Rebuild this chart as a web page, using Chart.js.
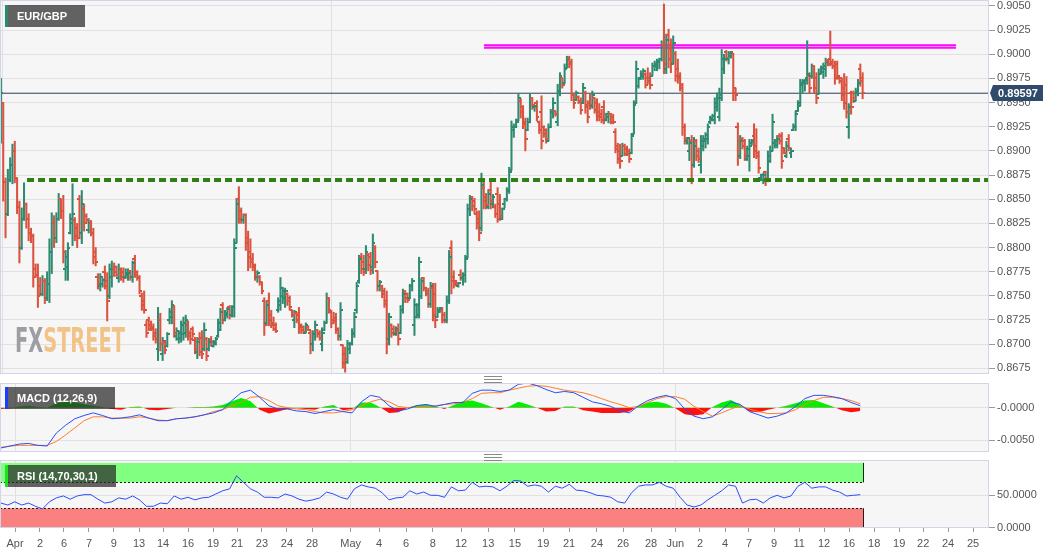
<!DOCTYPE html>
<html><head><meta charset="utf-8">
<script src="https://cdn.jsdelivr.net/npm/chart.js@4.4.0/dist/chart.umd.min.js"></script>
<style>
html,body{margin:0;padding:0;background:#fff;width:1060px;height:555px;overflow:hidden;font-family:"Liberation Sans",Arial,sans-serif;}
canvas{position:absolute;left:0;}
.tag{position:absolute;left:5px;height:22px;background:rgba(40,40,40,0.72);color:#fff;font-weight:bold;font-size:11px;line-height:22px;padding:0 18px 0 12px;white-space:nowrap;}
.tag i{position:absolute;left:0;top:0;bottom:0;width:3px;}
.handle{position:absolute;left:484px;width:18px;height:5px;border-top:1px solid #8a8a8a;border-bottom:1px solid #8a8a8a;}
.handle:after{content:'';position:absolute;left:0;right:0;top:2px;border-top:1px solid #8a8a8a;}
</style></head>
<body>
<canvas id="cMain" width="1060" height="374" style="top:0"></canvas>
<canvas id="cMacd" width="1060" height="69" style="top:383px"></canvas>
<canvas id="cRsi" width="1060" height="95" style="top:460px"></canvas>
<div class="tag" style="top:5px"><i style="background:#2b8a6e"></i>EUR/GBP</div>
<div class="tag" style="top:387px"><i style="background:#1c3dff"></i>MACD (12,26,9)</div>
<div class="tag" style="top:465px"><i style="background:#19e619"></i>RSI (14,70,30,1)</div>
<div class="handle" style="top:376px"></div>
<div class="handle" style="top:454px"></div>
<script>
// ---------- DATA ----------
const opens = [
0.8915,0.8950,0.8868,0.8835,0.8870,0.8885,0.8900,0.8872,0.8842,0.8800,
0.8830,0.8845,0.8830,0.8815,0.8812,0.8778,0.8772,0.8760,0.8752,0.8765,
0.8748,0.8762,0.8795,0.8825,0.8810,0.8830,0.8850,0.8838,0.8778,0.8780,
0.8815,0.8825,0.8828,0.8820,0.8850,0.8815,0.8840,0.8833,0.8818,0.8825,
0.8815,0.8795,0.8770,0.8760,0.8762,0.8775,0.8765,0.8750,0.8770,0.8778,
0.8780,0.8768,0.8778,0.8775,0.8770,0.8772,0.8776,0.8770,0.8788,0.8775,
0.8770,0.8750,0.8745,0.8720,0.8725,0.8720,0.8718,0.8712,0.8695,0.8725,
0.8690,0.8702,0.8698,0.8725,0.8728,0.8738,0.8708,0.8705,0.8706,0.8710,
0.8712,0.8720,0.8712,0.8716,0.8704,0.8692,0.8705,0.8706,0.8695,0.8705,
0.8695,0.8704,0.8698,0.8700,0.8708,0.8715,0.8740,0.8725,0.8730,0.8738,
0.8730,0.8738,0.8805,0.8850,0.8838,0.8828,0.8834,0.8810,0.8795,0.8788,
0.8782,0.8770,0.8770,0.8764,0.8745,0.8722,0.8745,0.8730,0.8722,0.8720,
0.8735,0.8740,0.8750,0.8748,0.8752,0.8748,0.8735,0.8725,0.8732,0.8730,
0.8720,0.8718,0.8712,0.8718,0.8712,0.8700,0.8710,0.8715,0.8712,0.8700,
0.8715,0.8722,0.8748,0.8733,0.8725,0.8727,0.8716,0.8708,0.8699,0.8690,
0.8682,0.8695,0.8700,0.8710,0.8735,0.8765,0.8790,0.8785,0.8778,0.8792,
0.8790,0.8780,0.8800,0.8776,0.8760,0.8760,0.8755,0.8745,0.8705,0.8720,
0.8716,0.8710,0.8715,0.8712,0.8735,0.8755,0.8752,0.8748,0.8760,0.8720,
0.8728,0.8730,0.8750,0.8768,0.8758,0.8755,0.8742,0.8758,0.8752,0.8728,
0.8733,0.8735,0.8730,0.8725,0.8745,0.8800,0.8770,0.8765,0.8760,0.8772,
0.8768,0.8772,0.8790,0.8840,0.8852,0.8848,0.8835,0.8830,0.8820,0.8862,
0.8852,0.8842,0.8860,0.8845,0.8842,0.8855,0.8845,0.8830,0.8845,0.8850,
0.8858,0.8880,0.8922,0.8925,0.8932,0.8952,0.8945,0.8930,0.8922,0.8930,
0.8955,0.8945,0.8950,0.8930,0.8940,0.8925,0.8922,0.8910,0.8925,0.8940,
0.8941,0.8930,0.8962,0.8975,0.8970,0.8986,0.8996,0.8992,0.8958,0.8953,
0.8956,0.8952,0.8950,0.8960,0.8948,0.8950,0.8946,0.8955,0.8950,0.8940,
0.8938,0.8945,0.8932,0.8935,0.8938,0.8935,0.8920,0.8905,0.8900,0.8895,
0.8905,0.8902,0.8900,0.8898,0.8918,0.8950,0.8967,0.8975,0.8978,0.8980,
0.8975,0.8975,0.8978,0.8988,0.8988,0.8992,0.8995,0.9010,0.8985,0.9020,
0.9005,0.8990,0.9000,0.8985,0.8978,0.8968,0.8925,0.8910,0.8900,0.8910,
0.8885,0.8910,0.8900,0.8885,0.8905,0.8910,0.8912,0.8930,0.8932,0.8932,
0.8945,0.8935,0.8955,0.8985,0.9002,0.8995,0.8998,0.9000,0.8965,0.8925,
0.8895,0.8912,0.8910,0.8892,0.8895,0.8908,0.8915,0.8905,0.8895,0.8872,
0.8870,0.8878,0.8870,0.8890,0.8900,0.8908,0.8906,0.8915,0.8915,0.8903,
0.8895,0.8912,0.8898,0.8922,0.8925,0.8941,0.8947,0.8968,0.8970,0.8975,
0.8978,0.8978,0.8988,0.8975,0.8959,0.8980,0.8982,0.8985,0.8993,0.8995,
0.8992,0.8988,0.8990,0.8975,0.8975,0.8965,0.8968,0.8925,0.8960,0.8960,
0.8952,0.8960,0.8985,0.8975];
const highs = [
0.8975,0.8950,0.8872,0.8881,0.8893,0.8907,0.8910,0.8872,0.8848,0.8841,
0.8867,0.8846,0.8835,0.8820,0.8814,0.8783,0.8783,0.8769,0.8771,0.8768,
0.8775,0.8809,0.8836,0.8833,0.8836,0.8856,0.8850,0.8854,0.8797,0.8805,
0.8835,0.8866,0.8831,0.8825,0.8854,0.8859,0.8845,0.8835,0.8830,0.8828,
0.8820,0.8800,0.8773,0.8773,0.8768,0.8781,0.8774,0.8783,0.8786,0.8784,
0.8781,0.8783,0.8779,0.8779,0.8778,0.8778,0.8776,0.8786,0.8792,0.8776,
0.8771,0.8753,0.8755,0.8724,0.8728,0.8724,0.8721,0.8716,0.8738,0.8732,
0.8707,0.8704,0.8712,0.8737,0.8745,0.8740,0.8717,0.8714,0.8724,0.8728,
0.8730,0.8724,0.8714,0.8718,0.8707,0.8707,0.8712,0.8714,0.8722,0.8707,
0.8706,0.8708,0.8704,0.8707,0.8726,0.8737,0.8743,0.8735,0.8738,0.8740,
0.8740,0.8809,0.8851,0.8863,0.8841,0.8835,0.8835,0.8817,0.8809,0.8794,
0.8783,0.8776,0.8771,0.8764,0.8748,0.8745,0.8753,0.8735,0.8728,0.8722,
0.8748,0.8769,0.8759,0.8758,0.8753,0.8750,0.8735,0.8735,0.8733,0.8738,
0.8721,0.8719,0.8722,0.8719,0.8714,0.8714,0.8724,0.8715,0.8714,0.8717,
0.8724,0.8753,0.8748,0.8735,0.8733,0.8732,0.8717,0.8743,0.8699,0.8697,
0.8704,0.8702,0.8716,0.8733,0.8764,0.8792,0.8794,0.8792,0.8802,0.8794,
0.8795,0.8814,0.8802,0.8776,0.8766,0.8761,0.8758,0.8755,0.8732,0.8721,
0.8719,0.8718,0.8721,0.8740,0.8757,0.8755,0.8753,0.8762,0.8768,0.8747,
0.8742,0.8790,0.8768,0.8769,0.8759,0.8758,0.8764,0.8763,0.8763,0.8738,
0.8738,0.8738,0.8733,0.8750,0.8797,0.8807,0.8776,0.8766,0.8764,0.8777,
0.8774,0.8792,0.8845,0.8854,0.8853,0.8851,0.8838,0.8838,0.8877,0.8869,
0.8856,0.8860,0.8869,0.8855,0.8845,0.8862,0.8855,0.8841,0.8851,0.8862,
0.8883,0.8931,0.8928,0.8933,0.8959,0.8954,0.8947,0.8934,0.8934,0.8959,
0.8955,0.8947,0.8952,0.8931,0.8957,0.8926,0.8923,0.8928,0.8943,0.8955,
0.8941,0.8969,0.8981,0.8975,0.8990,0.8998,0.8998,0.8995,0.8960,0.8962,
0.8957,0.8955,0.8970,0.8962,0.8952,0.8959,0.8962,0.8955,0.8954,0.8949,
0.8943,0.8952,0.8939,0.8941,0.8939,0.8938,0.8923,0.8908,0.8907,0.8908,
0.8907,0.8905,0.8902,0.8918,0.8952,0.8993,0.8976,0.8983,0.8985,0.8981,
0.8986,0.8981,0.8991,0.8993,0.8995,0.8996,0.9014,0.9052,0.9021,0.9026,
0.9016,0.9019,0.9003,0.8995,0.8981,0.8970,0.8928,0.8914,0.8912,0.8916,
0.8914,0.8912,0.8903,0.8916,0.8916,0.8919,0.8928,0.8936,0.8938,0.8955,
0.8960,0.8965,0.9005,0.9000,0.9004,0.9003,0.9003,0.9001,0.8965,0.8929,
0.8916,0.8914,0.8912,0.8905,0.8912,0.8912,0.8928,0.8923,0.8900,0.8876,
0.8877,0.8879,0.8900,0.8905,0.8938,0.8912,0.8916,0.8918,0.8919,0.8903,
0.8910,0.8917,0.8903,0.8928,0.8941,0.8952,0.8974,0.8974,0.8974,0.9014,
0.8981,0.8990,0.8988,0.8981,0.8985,0.8988,0.8991,0.8996,0.8995,0.9024,
0.8995,0.8993,0.8993,0.8975,0.8975,0.8980,0.8977,0.8949,0.8962,0.8962,
0.8965,0.8974,0.8990,0.8981];
const lows = [
0.8908,0.8848,0.8810,0.8833,0.8868,0.8866,0.8867,0.8835,0.8784,0.8798,
0.8828,0.8820,0.8807,0.8805,0.8759,0.8769,0.8738,0.8750,0.8750,0.8742,
0.8745,0.8743,0.8773,0.8800,0.8805,0.8828,0.8830,0.8784,0.8766,0.8766,
0.8814,0.8802,0.8807,0.8800,0.8809,0.8804,0.8817,0.8825,0.8815,0.8812,
0.8783,0.8781,0.8757,0.8755,0.8759,0.8757,0.8724,0.8747,0.8759,0.8770,
0.8770,0.8764,0.8766,0.8764,0.8768,0.8766,0.8766,0.8764,0.8769,0.8766,
0.8752,0.8735,0.8732,0.8707,0.8714,0.8714,0.8704,0.8701,0.8683,0.8693,
0.8683,0.8690,0.8697,0.8721,0.8721,0.8707,0.8704,0.8701,0.8702,0.8704,
0.8707,0.8704,0.8700,0.8707,0.8690,0.8685,0.8688,0.8685,0.8693,0.8683,
0.8693,0.8698,0.8697,0.8699,0.8707,0.8714,0.8721,0.8724,0.8727,0.8726,
0.8728,0.8728,0.8805,0.8825,0.8825,0.8825,0.8797,0.8776,0.8779,0.8776,
0.8766,0.8764,0.8761,0.8752,0.8709,0.8719,0.8719,0.8717,0.8714,0.8712,
0.8733,0.8735,0.8742,0.8738,0.8740,0.8735,0.8728,0.8717,0.8722,0.8711,
0.8711,0.8711,0.8712,0.8714,0.8690,0.8693,0.8704,0.8707,0.8704,0.8693,
0.8714,0.8722,0.8732,0.8717,0.8721,0.8711,0.8704,0.8704,0.8675,0.8671,
0.8680,0.8690,0.8699,0.8707,0.8732,0.8763,0.8773,0.8771,0.8773,0.8776,
0.8772,0.8773,0.8779,0.8755,0.8755,0.8748,0.8738,0.8690,0.8699,0.8707,
0.8709,0.8709,0.8699,0.8711,0.8732,0.8743,0.8743,0.8747,0.8755,0.8709,
0.8727,0.8727,0.8747,0.8755,0.8750,0.8738,0.8738,0.8724,0.8717,0.8728,
0.8733,0.8722,0.8722,0.8722,0.8742,0.8752,0.8758,0.8760,0.8759,0.8766,
0.8761,0.8764,0.8789,0.8833,0.8838,0.8835,0.8819,0.8807,0.8817,0.8840,
0.8840,0.8840,0.8840,0.8841,0.8831,0.8826,0.8828,0.8829,0.8841,0.8848,
0.8856,0.8880,0.8914,0.8924,0.8931,0.8934,0.8923,0.8900,0.8921,0.8929,
0.8943,0.8941,0.8931,0.8918,0.8902,0.8914,0.8908,0.8910,0.8924,0.8934,
0.8936,0.8926,0.8957,0.8965,0.8970,0.8986,0.8986,0.8952,0.8944,0.8952,
0.8949,0.8938,0.8949,0.8939,0.8929,0.8943,0.8944,0.8939,0.8931,0.8931,
0.8929,0.8928,0.8931,0.8929,0.8928,0.8928,0.8898,0.8887,0.8882,0.8895,
0.8895,0.8895,0.8888,0.8897,0.8918,0.8949,0.8965,0.8974,0.8974,0.8965,
0.8969,0.8964,0.8978,0.8983,0.8983,0.8985,0.8993,0.8980,0.8980,0.8986,
0.8981,0.8990,0.8972,0.8970,0.8962,0.8916,0.8907,0.8907,0.8890,0.8866,
0.8883,0.8890,0.8888,0.8877,0.8900,0.8903,0.8907,0.8928,0.8931,0.8928,
0.8941,0.8931,0.8952,0.8980,0.8993,0.8990,0.8996,0.8952,0.8952,0.8885,
0.8892,0.8902,0.8890,0.8890,0.8879,0.8906,0.8893,0.8892,0.8877,0.8869,
0.8866,0.8864,0.8868,0.8888,0.8900,0.8903,0.8903,0.8907,0.8882,0.8897,
0.8893,0.8900,0.8893,0.8921,0.8921,0.8941,0.8947,0.8960,0.8962,0.8969,
0.8960,0.8975,0.8960,0.8949,0.8959,0.8980,0.8975,0.8977,0.8988,0.8988,
0.8985,0.8969,0.8974,0.8970,0.8952,0.8943,0.8934,0.8913,0.8938,0.8950,
0.8952,0.8957,0.8967,0.8954];
const closes = [
0.8960,0.8868,0.8835,0.8870,0.8885,0.8900,0.8872,0.8842,0.8800,0.8830,
0.8845,0.8830,0.8815,0.8812,0.8770,0.8772,0.8750,0.8752,0.8765,0.8748,
0.8762,0.8795,0.8825,0.8810,0.8830,0.8850,0.8838,0.8795,0.8790,0.8800,
0.8830,0.8835,0.8812,0.8810,0.8815,0.8845,0.8825,0.8828,0.8825,0.8815,
0.8790,0.8785,0.8762,0.8770,0.8766,0.8760,0.8745,0.8778,0.8778,0.8775,
0.8772,0.8778,0.8770,0.8768,0.8774,0.8774,0.8770,0.8784,0.8772,0.8768,
0.8755,0.8740,0.8735,0.8712,0.8716,0.8716,0.8708,0.8705,0.8725,0.8700,
0.8703,0.8694,0.8710,0.8733,0.8740,0.8712,0.8714,0.8712,0.8720,0.8722,
0.8725,0.8708,0.8705,0.8710,0.8695,0.8702,0.8692,0.8690,0.8715,0.8688,
0.8702,0.8702,0.8702,0.8705,0.8722,0.8733,0.8725,0.8732,0.8736,0.8730,
0.8738,0.8800,0.8845,0.8830,0.8828,0.8834,0.8805,0.8790,0.8785,0.8780,
0.8770,0.8774,0.8764,0.8755,0.8720,0.8740,0.8725,0.8720,0.8716,0.8714,
0.8745,0.8758,0.8755,0.8755,0.8745,0.8738,0.8730,0.8733,0.8725,0.8718,
0.8715,0.8713,0.8720,0.8715,0.8700,0.8710,0.8720,0.8710,0.8706,0.8712,
0.8722,0.8748,0.8735,0.8722,0.8724,0.8715,0.8708,0.8735,0.8680,0.8685,
0.8700,0.8700,0.8712,0.8728,0.8760,0.8788,0.8778,0.8775,0.8795,0.8782,
0.8777,0.8805,0.8785,0.8760,0.8764,0.8752,0.8742,0.8700,0.8728,0.8712,
0.8712,0.8716,0.8705,0.8735,0.8752,0.8748,0.8746,0.8760,0.8765,0.8740,
0.8740,0.8785,0.8765,0.8758,0.8752,0.8742,0.8760,0.8730,0.8725,0.8735,
0.8737,0.8725,0.8724,0.8745,0.8790,0.8765,0.8762,0.8762,0.8763,0.8768,
0.8772,0.8788,0.8840,0.8850,0.8843,0.8840,0.8825,0.8815,0.8865,0.8848,
0.8844,0.8855,0.8848,0.8852,0.8835,0.8830,0.8833,0.8840,0.8850,0.8860,
0.8878,0.8925,0.8925,0.8930,0.8955,0.8940,0.8928,0.8912,0.8930,0.8955,
0.8948,0.8946,0.8935,0.8922,0.8910,0.8918,0.8912,0.8925,0.8940,0.8950,
0.8938,0.8962,0.8978,0.8968,0.8985,0.8995,0.8990,0.8958,0.8950,0.8960,
0.8951,0.8942,0.8965,0.8945,0.8935,0.8948,0.8958,0.8942,0.8936,0.8935,
0.8932,0.8933,0.8938,0.8938,0.8930,0.8930,0.8902,0.8892,0.8890,0.8905,
0.8897,0.8897,0.8892,0.8915,0.8948,0.8985,0.8974,0.8980,0.8983,0.8968,
0.8972,0.8968,0.8988,0.8990,0.8993,0.8995,0.9010,0.8990,0.9015,0.8995,
0.8990,0.9012,0.8978,0.8975,0.8965,0.8925,0.8912,0.8913,0.8908,0.8885,
0.8905,0.8895,0.8892,0.8910,0.8912,0.8916,0.8925,0.8934,0.8936,0.8950,
0.8955,0.8958,0.8995,0.8995,0.8996,0.9001,0.9002,0.8960,0.8958,0.8895,
0.8910,0.8905,0.8895,0.8902,0.8905,0.8910,0.8900,0.8898,0.8882,0.8875,
0.8875,0.8870,0.8895,0.8900,0.8930,0.8910,0.8912,0.8910,0.8890,0.8898,
0.8905,0.8903,0.8900,0.8926,0.8938,0.8950,0.8970,0.8972,0.8973,0.8980,
0.8965,0.8988,0.8965,0.8955,0.8980,0.8986,0.8988,0.8992,0.8990,0.8990,
0.8988,0.8975,0.8978,0.8972,0.8958,0.8950,0.8940,0.8945,0.8945,0.8955,
0.8962,0.8970,0.8972,0.8960];

const priceTicks = [0.8675,0.8700,0.8725,0.8750,0.8775,0.8800,0.8825,0.8850,0.8875,0.8900,0.8925,0.8950,0.8975,0.9000,0.9025,0.9050];
const dateLabels = ['Apr','2','6','7','9','13','14','16','19','21','23','24','28','May','4','6','8','12','13','15','19','21','24','26','28','Jun','2','4','7','9','11','12','16','18','19','22','24','25'];
const dateAtBar = [6.1,16.9,27.3,38.1,48.9,59.8,70.2,81.0,91.8,102.2,113.0,123.8,134.7,151.4,163.7,175.4,187.0,199.2,210.9,222.5,234.7,245.9,258.0,269.3,281.4,291.9,302.6,313.5,323.8,334.7,345.5,356.3,367.1,378.0,388.8,399.2,410.0,420.8];
const monthNames = ['Apr','May','Jun'];

const lastPrice = 0.89597;
const supportLevel = 0.8870;
const supportStartBar = 11.3;
const resistanceLevel = 0.9008;
const resistanceBars = [209.1, 413.4];

const MACD_STEP = 4; // one reading every 4 bars
const macdLine = [
-0.0062,-0.0059,-0.0056,-0.0055,-0.0058,-0.0059,-0.0039,-0.0027,-0.0017,-0.0012,
-0.0008,-0.0012,-0.0017,-0.0016,-0.0014,-0.0011,-0.0016,-0.0020,-0.0020,-0.0017,
-0.0016,-0.0014,-0.0011,-0.0008,-0.0003,0.0011,0.0023,0.0027,0.0016,0.0003,
-0.0002,-0.0002,-0.0005,-0.0006,-0.0009,-0.0006,-0.0003,-0.0006,-0.0008,0.0009,
0.0019,0.0016,0.0003,-0.0005,-0.0002,0.0003,0.0005,0.0002,0.0005,0.0008,
0.0008,0.0022,0.0027,0.0027,0.0025,0.0027,0.0036,0.0038,0.0034,0.0028,
0.0023,0.0025,0.0023,0.0016,0.0009,0.0006,0.0002,-0.0005,-0.0008,0.0003,
0.0011,0.0016,0.0019,0.0014,-0.0002,-0.0013,-0.0017,-0.0014,-0.0003,0.0009,
0.0005,-0.0006,-0.0011,-0.0016,-0.0013,-0.0008,0.0002,0.0014,0.0019,0.0019,
0.0017,0.0014,0.0008,0.0003];
const signalLine = [
-0.0061,-0.0059,-0.0058,-0.0058,-0.0058,-0.0058,-0.0052,-0.0042,-0.0031,-0.0020,
-0.0014,-0.0014,-0.0016,-0.0016,-0.0016,-0.0014,-0.0016,-0.0019,-0.0020,-0.0017,
-0.0016,-0.0014,-0.0011,-0.0006,-0.0003,0.0003,0.0008,0.0016,0.0017,0.0011,
0.0003,0.0000,-0.0002,-0.0003,-0.0006,-0.0008,-0.0008,-0.0006,-0.0003,0.0003,
0.0009,0.0013,0.0009,0.0002,0.0000,0.0002,0.0002,0.0003,0.0005,0.0006,
0.0008,0.0014,0.0022,0.0023,0.0023,0.0027,0.0030,0.0033,0.0034,0.0033,
0.0030,0.0027,0.0025,0.0023,0.0019,0.0014,0.0009,0.0005,0.0000,0.0002,
0.0008,0.0014,0.0017,0.0017,0.0013,0.0002,-0.0006,-0.0013,-0.0008,-0.0002,
0.0003,-0.0002,-0.0006,-0.0009,-0.0009,-0.0008,-0.0003,0.0005,0.0011,0.0016,
0.0016,0.0014,0.0011,0.0006];
const macdHist = [
-0.0002,-0.0001,0.0002,0.0003,0.0001,0.0000,0.0007,0.0009,0.0008,0.0005,
0.0003,0.0001,-0.0002,-0.0003,0.0001,0.0002,-0.0003,-0.0004,-0.0002,0.0000,
0.0000,0.0001,0.0001,0.0002,0.0004,0.0010,0.0015,0.0010,-0.0003,-0.0009,
-0.0006,-0.0002,-0.0001,-0.0002,-0.0003,0.0002,0.0004,-0.0004,-0.0002,0.0008,
0.0008,0.0001,-0.0008,-0.0007,0.0000,0.0004,0.0005,0.0002,-0.0002,0.0004,
0.0010,0.0011,0.0007,0.0002,-0.0003,0.0002,0.0009,0.0005,0.0000,-0.0006,
-0.0005,0.0002,0.0002,-0.0004,-0.0006,-0.0008,-0.0008,-0.0008,-0.0006,0.0003,
0.0008,0.0009,0.0006,-0.0001,-0.0010,-0.0012,-0.0010,0.0001,0.0008,0.0012,
0.0004,-0.0006,-0.0007,-0.0003,0.0000,0.0003,0.0007,0.0011,0.0012,0.0007,
0.0002,-0.0004,-0.0007,-0.0005];
const macdTicks = [-0.005, 0];

const RSI_STEP = 3; // one reading every 3 bars
const rsiValues = [
38,35,40,35,38,33,29,40,46,49,
44,49,51,51,44,38,40,46,44,49,
43,33,33,38,37,49,44,47,43,46,
47,52,57,60,80,70,60,55,47,47,
46,52,49,44,41,43,46,55,52,47,
44,60,66,63,61,54,43,46,47,57,
52,55,50,50,47,63,57,58,70,63,
64,63,57,64,73,72,64,66,64,55,
64,61,67,58,57,54,50,49,47,40,
38,54,64,66,66,70,64,61,47,35,
32,35,43,50,57,66,64,38,43,44,
38,46,50,46,49,64,70,61,63,63,
58,55,49,50,51];
const rsiTicks = [0, 50];
const rsiBandTop = 100, rsiUpper = 70, rsiLower = 30, rsiBandBottom = 0;

// ---------- STYLE ----------
const FONT = '"Liberation Sans", Arial, Helvetica, sans-serif';
const BG = '#f6f6f6', GRID = '#e1e1e1', FRAME = '#d2d5e6', TXT = '#555555';
const UP = '#2e8a70', DN = '#d9533f';
const X_MIN = -0.4, X_MAX = 427.7;
const N = closes.length;
const isUp = i => closes[i] >= opens[i];

function tickImg(color, isOpen) {
  const c = document.createElement('canvas'); c.width = 5; c.height = 2;
  const g = c.getContext('2d'); g.fillStyle = color;
  g.fillRect(isOpen ? 0 : 2, 0, 3, 2);
  return c;
}
const OPEN_UP = tickImg(UP, true), OPEN_DN = tickImg(DN, true);
const CLOSE_UP = tickImg(UP, false), CLOSE_DN = tickImg(DN, false);

function zeroPad(s) { s.paddingTop = 0; s.paddingBottom = 0; s.paddingLeft = 0; s.paddingRight = 0; }
function xAxis(showLabels) {
  return {
    type: 'linear', min: X_MIN, max: X_MAX, offset: false,
    afterBuildTicks(s) { s.ticks = dateAtBar.map(v => ({ value: v })); },
    afterFit(s) { s.height = showLabels ? 27 : 0; zeroPad(s); },
    grid: {
      drawOnChartArea: true, drawTicks: showLabels, tickLength: 4, tickColor: '#9a9a9a',
      color(c) { return (c.tick && monthNames.includes(dateLabels[c.index])) ? GRID : 'rgba(0,0,0,0)'; }
    },
    border: { display: false },
    ticks: {
      display: showLabels, autoSkip: false, maxRotation: 0, minRotation: 0, padding: 5,
      color: TXT, font: { family: FONT, size: 11 },
      callback(v, i) { return dateLabels[i]; }
    }
  };
}
function yAxis(min, max, ticks, fmt) {
  return {
    type: 'linear', position: 'right', min, max,
    afterBuildTicks(s) { s.ticks = ticks.map(v => ({ value: v })); },
    afterFit(s) { s.width = 71; zeroPad(s); },
    grid: { color: GRID, tickColor: '#9a9a9a', tickLength: 6, drawTicks: true },
    border: { display: false },
    ticks: { autoSkip: false, padding: 2, color: TXT, font: { family: FONT, size: 11 }, callback: fmt }
  };
}
const frame = {
  id: 'frame',
  beforeDraw(c) { const { ctx, chartArea: a } = c; ctx.save(); ctx.fillStyle = BG; ctx.fillRect(a.left, a.top, a.right - a.left, a.bottom - a.top); ctx.restore(); },
  afterDraw(c) { const { ctx, chartArea: a } = c; ctx.save(); ctx.strokeStyle = FRAME; ctx.lineWidth = 1; ctx.strokeRect(a.left + 0.5, a.top + 0.5, a.right - a.left - 1, a.bottom - a.top - 1); ctx.restore(); }
};
const watermark = {
  id: 'watermark',
  beforeDatasetsDraw(c) {
    const ctx = c.ctx; ctx.save();
    ctx.font = 'bold 34px "DejaVu Sans Condensed", "DejaVu Sans", sans-serif';
    const w1 = ctx.measureText('FX').width, w2 = ctx.measureText('STREET').width;
    const s = 110 / (w1 + w2);
    ctx.translate(15, 352); ctx.scale(s, 1);
    ctx.textBaseline = 'alphabetic';
    ctx.fillStyle = '#9d9da3'; ctx.fillText('FX', 0, 0);
    ctx.fillStyle = '#f2c388'; ctx.fillText('STREET', w1, 0);
    ctx.restore();
  }
};
const priceTag = {
  id: 'priceTag',
  afterDraw(c) {
    const { ctx, chartArea: a, scales: { y } } = c;
    const yy = Math.round(y.getPixelForValue(lastPrice));
    ctx.save(); ctx.fillStyle = '#2f4a6b';
    ctx.beginPath(); ctx.moveTo(a.right + 1, yy); ctx.lineTo(a.right + 4, yy - 8); ctx.lineTo(a.right + 54, yy - 8);
    ctx.lineTo(a.right + 54, yy + 8); ctx.lineTo(a.right + 4, yy + 8); ctx.closePath(); ctx.fill();
    ctx.fillStyle = '#ffffff'; ctx.font = 'bold 11px ' + FONT; ctx.textAlign = 'center'; ctx.textBaseline = 'middle';
    ctx.fillText(lastPrice.toFixed(5), a.right + 29, yy + 1);
    ctx.restore();
  }
};
const rsiBands = {
  id: 'rsiBands',
  beforeDatasetsDraw(c) {
    const { ctx, chartArea: a, scales: { x, y } } = c;
    const xr = Math.round(x.getPixelForValue(N - 1)) + 0.5, xl = a.left + 0.5;
    ctx.save();
    const band = (v1, v2, col) => {
      const y1 = y.getPixelForValue(v1), y2 = y.getPixelForValue(v2);
      ctx.fillStyle = col; ctx.fillRect(a.left, y1, xr - a.left, y2 - y1);
      ctx.strokeStyle = '#1e1e1e'; ctx.lineWidth = 1; ctx.beginPath();
      ctx.moveTo(xl, y1); ctx.lineTo(xl, y2); ctx.moveTo(xr, y1); ctx.lineTo(xr, y2); ctx.stroke();
    };
    band(rsiBandTop, rsiUpper, '#80ff80');
    band(rsiLower, rsiBandBottom, '#fb8080');
    ctx.setLineDash([2, 2]); ctx.strokeStyle = '#1e1e1e'; ctx.beginPath();
    for (const v of [rsiUpper, rsiLower]) { const yy = Math.round(y.getPixelForValue(v)) + 0.5; ctx.moveTo(a.left, yy); ctx.lineTo(xr, yy); }
    ctx.stroke(); ctx.restore();
  }
};
const common = {
  responsive: false, animation: false, events: [],
  layout: { autoPadding: false, padding: 0 },
  plugins: { legend: { display: false }, tooltip: { enabled: false } }
};

// ---------- MAIN PRICE PANEL ----------
new Chart(document.getElementById('cMain'), {
  type: 'bar',
  data: { datasets: [
    { type: 'line', order: 0, data: [{ x: supportStartBar, y: supportLevel }, { x: X_MAX, y: supportLevel }],
      borderColor: '#2f7f14', borderWidth: 4, borderDash: [7, 4], pointRadius: 0, fill: false },
    { type: 'line', order: 1, data: opens.map((v, i) => ({ x: i, y: v })), showLine: false,
      pointRadius: 1, pointBorderWidth: 0, pointStyle: c => isUp(c.dataIndex) ? OPEN_UP : OPEN_DN },
    { type: 'line', order: 1, data: closes.map((v, i) => ({ x: i, y: v })), showLine: false,
      pointRadius: 1, pointBorderWidth: 0, pointStyle: c => isUp(c.dataIndex) ? CLOSE_UP : CLOSE_DN },
    { type: 'bar', order: 2, data: highs.map((h, i) => ({ x: i, y: [lows[i], h] })),
      backgroundColor: c => isUp(c.dataIndex) ? UP : DN, borderWidth: 0, barThickness: 1.4, grouped: false },
    { type: 'line', order: 3, data: [{ x: X_MIN, y: lastPrice }, { x: X_MAX, y: lastPrice }],
      borderColor: '#2b3d5c', borderWidth: 1, pointRadius: 0, fill: false },
    { type: 'line', order: 4, data: resistanceBars.map(b => ({ x: b, y: resistanceLevel })),
      borderColor: '#ff9cff', borderWidth: 1, pointRadius: 0, fill: false },
    { type: 'line', order: 5, data: resistanceBars.map(b => ({ x: b, y: resistanceLevel })),
      borderColor: '#ff00ff', borderWidth: 4.5, pointRadius: 0, fill: false, borderCapStyle: 'butt' }
  ] },
  options: Object.assign({}, common, {
    scales: {
      x: xAxis(false),
      y: yAxis(0.86691, 0.90562, priceTicks, v => v.toFixed(4))
    }
  }),
  plugins: [frame, watermark, priceTag]
});

// ---------- MACD PANEL ----------
new Chart(document.getElementById('cMacd'), {
  type: 'line',
  data: { datasets: [
    { order: 0, data: macdLine.map((v, k) => ({ x: k * MACD_STEP, y: v })), borderColor: '#2b4dff', borderWidth: 1, pointRadius: 0, fill: false },
    { order: 1, data: signalLine.map((v, k) => ({ x: k * MACD_STEP, y: v })), borderColor: '#ff7f2a', borderWidth: 1, pointRadius: 0, fill: false },
    { order: 2, data: macdHist.map((v, k) => ({ x: k * MACD_STEP, y: v })), borderWidth: 0, borderColor: 'rgba(0,0,0,0)', pointRadius: 0,
      fill: { target: { value: 0 }, above: '#00f000', below: '#ff1010' } }
  ] },
  options: Object.assign({}, common, {
    scales: {
      x: xAxis(false),
      y: yAxis(-0.00682, 0.0038, macdTicks, v => (v === 0 ? '-' : '') + v.toFixed(4))
    }
  }),
  plugins: [frame]
});

// ---------- RSI PANEL ----------
new Chart(document.getElementById('cRsi'), {
  type: 'line',
  data: { datasets: [
    { data: rsiValues.map((v, k) => ({ x: k * RSI_STEP, y: v })), borderColor: '#2d4cff', borderWidth: 1, pointRadius: 0, fill: false }
  ] },
  options: Object.assign({}, common, {
    scales: {
      x: xAxis(true),
      y: yAxis(-0.46, 104.5, rsiTicks, v => v.toFixed(4))
    }
  }),
  plugins: [frame, rsiBands]
});
</script>
</body></html>
